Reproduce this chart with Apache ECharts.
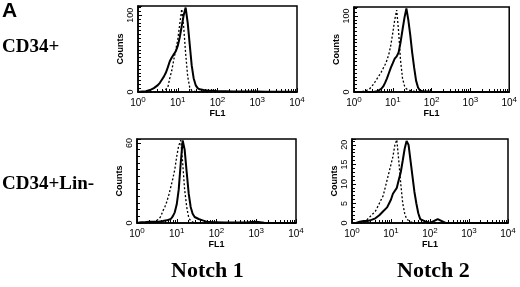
<!DOCTYPE html>
<html>
<head>
<meta charset="utf-8">
<script src="https://cdn.jsdelivr.net/npm/echarts@6/dist/echarts.min.js"></script>
<style>
  html, body { margin: 0; padding: 0; background: #fff; }
  #chart { width: 520px; height: 287px; }
</style>
</head>
<body>
<div id="chart"></div>
<script>
// FL1 channel positions (log scale, 10^0 .. 10^4)
var fl1 = [1, 1.26, 1.58, 2.0, 2.51, 3.16, 3.55, 3.98, 4.47, 5.01, 5.62, 6.31, 7.08, 7.94, 8.91,
    10, 11.2, 12.6, 14.1, 15.8, 17.8, 20, 22.4, 25.1, 28.2, 31.6, 35.5, 39.8, 44.7, 50.1, 56.2, 63.1,
    79.4, 100, 158, 251, 398, 631, 1000, 1585, 2512, 3981, 6310, 10000];

// Notch 1, CD34+
var n1_cd34_solid = [0, 0.5, 1, 2.5, 5, 9, 12, 16, 20, 25, 32, 40, 45, 49, 53,
    60, 71, 86, 100, 110, 90, 62, 35, 18, 9, 5, 3.5, 3, 2.5, 2, 2, 1.5,
    1.5, 1, 1, 0.8, 0.5, 0.5, 0.5, 0.3, 0.3, 0.2, 0.2, 0];
var n1_cd34_dot = [0, 0, 0, 0, 0, 0, 0, 0, 1, 3, 6, 18, 28, 42, 55,
    68, 88, 108, 85, 50, 20, 6, 2, 1, 0.5, 0, 0, 0, 0, 0, 0, 0,
    0, 0, 0, 0, 0, 0, 0, 0, 0, 0, 0, 0];
// Notch 2, CD34+
var n2_cd34_solid = [0, 0, 0, 0, 0, 0, 0.5, 1, 2, 4, 7, 12, 18, 25, 32,
    38, 44, 47, 52, 65, 82, 98, 110, 95, 75, 52, 32, 15, 6, 2, 1, 0.5,
    0.5, 0.3, 0, 0, 0, 0, 0, 0, 0, 0, 0, 0];
var n2_cd34_dot = [0, 0, 0.5, 1.5, 4, 10, 14, 18, 22, 26, 31, 36, 42, 50, 62,
    78, 95, 108, 80, 42, 18, 8, 4, 2.5, 2, 1.5, 1, 0.5, 0.3, 0, 0, 0,
    0, 0, 0, 0, 0, 0, 0, 0, 0, 0, 0, 0];
// Notch 1, CD34+Lin-
var n1_lin_solid = [0, 0.5, 0.5, 1, 1, 1, 1, 1, 1.5, 1.5, 2, 2.5, 3, 5, 8,
    14, 25, 45, 62, 55, 38, 22, 12, 7, 4.5, 3.5, 3, 2.5, 2, 1.5, 1, 1,
    0.5, 0.5, 0.3, 0.3, 0.3, 0.5, 1, 0.2, 0, 0, 0, 0];
var n1_lin_dot = [0, 0, 0, 0, 0.5, 2, 3, 5, 9, 12, 16, 21, 27, 33, 40,
    50, 58, 62, 45, 25, 12, 4, 1.5, 0.5, 0, 0, 0, 0, 0, 0, 0, 0,
    0, 0, 0, 0, 0, 0, 0, 0, 0, 0, 0, 0];
// Notch 2, CD34+Lin-
var n2_lin_solid = [0, 0, 0.3, 0.5, 0.5, 0.8, 1, 1.2, 1.5, 2, 2.5, 3, 3.5, 4, 5,
    6, 7.5, 8, 9, 11, 13, 16, 19, 21, 20, 16, 12, 8, 5, 2.5, 1, 0.5,
    0.3, 0, 1, 0, 0, 0, 0, 0, 0, 0, 0, 0];
var n2_lin_dot = [0, 0, 0, 0, 1, 2, 2.5, 3, 4, 5, 6, 7, 9, 11, 13,
    15, 17, 20, 21.3, 16, 10, 5, 2.5, 1, 0.5, 0.3, 0, 0, 0, 0, 0, 0,
    0, 0, 0, 0, 0, 0, 0, 0, 0, 0, 0, 0];

var yMax = [112, 112, 63, 21.5];
var yInterval = [100, 100, 60, 5];
var yMinorSplit = [20, 20, 12, 5];

function pairs(ys) {
    var out = [];
    for (var k = 0; k < fl1.length; k++) {
        out.push([fl1[k], ys[k]]);
    }
    return out;
}

var chart = echarts.init(document.getElementById('chart'));

var grids = [
    { left: 138, top: 6, width: 159, height: 86 },
    { left: 354, top: 7, width: 158, height: 85 },
    { left: 137, top: 139, width: 159, height: 84 },
    { left: 352, top: 139, width: 156, height: 84 }
];
var seriesData = [
    [n1_cd34_solid, n1_cd34_dot],
    [n2_cd34_solid, n2_cd34_dot],
    [n1_lin_solid, n1_lin_dot],
    [n2_lin_solid, n2_lin_dot]
];

var xAxes = [], yAxes = [], series = [];
for (var g = 0; g < 4; g++) {
    grids[g].show = true;
    grids[g].borderColor = '#000';
    grids[g].borderWidth = 1.5;
    xAxes.push({
        type: 'log',
        gridIndex: g,
        logBase: 10,
        min: 1,
        max: 10000,
        name: 'FL1',
        nameLocation: 'middle',
        nameGap: 17,
        nameTextStyle: { fontFamily: 'Liberation Sans', fontWeight: 'bold', fontSize: 9, color: '#000' },
        axisLine: { show: true, lineStyle: { color: '#000', width: 1.5 } },
        axisTick: { show: true, inside: true, length: 4, lineStyle: { color: '#000', width: 1 } },
        minorTick: { show: true, splitNumber: 9, length: 3, lineStyle: { color: '#000', width: 1 } },
        splitLine: { show: false },
        axisLabel: {
            margin: 4,
            color: '#000',
            formatter: function (v) {
                return '{b|10}{s|' + Math.round(Math.log10(v)) + '}';
            },
            rich: {
                b: { fontFamily: 'Liberation Sans', fontSize: 10, color: '#000' },
                s: { fontFamily: 'Liberation Sans', fontSize: 8, color: '#000', verticalAlign: 'top', padding: [0, 0, 6, 0] }
            }
        }
    });
    yAxes.push({
        type: 'value',
        gridIndex: g,
        min: 0,
        max: yMax[g],
        interval: yInterval[g],
        name: 'Counts',
        nameLocation: 'middle',
        nameGap: 13,
        nameTextStyle: { fontFamily: 'Liberation Sans', fontWeight: 'bold', fontSize: 9, color: '#000' },
        axisLine: { show: true, lineStyle: { color: '#000', width: 1.5 } },
        axisTick: { show: true, inside: true, length: 4, lineStyle: { color: '#000', width: 1 } },
        minorTick: { show: true, splitNumber: yMinorSplit[g], length: 3, lineStyle: { color: '#000', width: 1 } },
        splitLine: { show: false },
        axisLabel: {
            rotate: 90,
            margin: 3,
            showMaxLabel: false,
            fontFamily: 'Liberation Sans',
            fontSize: 9,
            color: '#000'
        }
    });
    series.push({
        type: 'line',
        xAxisIndex: g,
        yAxisIndex: g,
        data: pairs(seriesData[g][0]),
        symbol: 'none',
        lineStyle: { color: '#000', width: 2 },
        z: 3
    });
    series.push({
        type: 'line',
        xAxisIndex: g,
        yAxisIndex: g,
        data: pairs(seriesData[g][1]),
        symbol: 'none',
        lineStyle: { color: '#000', width: 1.3, type: [2, 2] },
        z: 2
    });
}

var serif = 'Liberation Serif';
var option = {
    animation: false,
    backgroundColor: '#fff',
    grid: grids,
    xAxis: xAxes,
    yAxis: yAxes,
    series: series,
    graphic: [
        { type: 'text', left: 2, top: 1, style: { text: 'A', font: 'bold 21px Liberation Sans', fill: '#000' } },
        { type: 'text', left: 2, top: 38, style: { text: 'CD34+', font: 'bold 19px ' + serif, fill: '#000' } },
        { type: 'text', left: 2, top: 175, style: { text: 'CD34+Lin-', font: 'bold 19px ' + serif, fill: '#000' } },
        { type: 'text', left: 171, top: 260, style: { text: 'Notch 1', font: 'bold 22px ' + serif, fill: '#000' } },
        { type: 'text', left: 397, top: 260, style: { text: 'Notch 2', font: 'bold 22px ' + serif, fill: '#000' } }
    ]
};
chart.setOption(option);
</script>
</body>
</html>
